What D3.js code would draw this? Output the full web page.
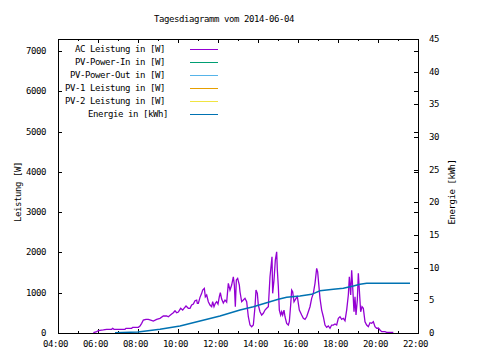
<!DOCTYPE html>
<html><head><meta charset="utf-8">
<script src="https://cdn.jsdelivr.net/npm/d3@7"></script>
<style>
html,body{margin:0;padding:0;background:#fff;}
svg text{font-family:"DejaVu Sans Mono",monospace;font-size:9px;letter-spacing:-0.42px;fill:#000;}
</style></head>
<body><svg id="c" width="480" height="360"></svg>
<script>
const title = "Tagesdiagramm vom 2014-06-04";
const xTickLabels = ["04:00","06:00","08:00","10:00","12:00","14:00","16:00","18:00","20:00","22:00"];
const leftTicks = [0,1000,2000,3000,4000,5000,6000,7000];
const rightTicks = [0,5,10,15,20,25,30,35,40,45];
const seriesNames = ["AC Leistung in [W]","PV-Power-In in [W]","PV-Power-Out in [W]","PV-1 Leistung in [W]","PV-2 Leistung in [W]","Energie in [kWh]"];
const seriesColors = ["#9400d3","#009e73","#56b4e9","#e69f00","#f0e442","#0072b2"];

const acTimes = ["05:46","05:54","06:01","06:16","06:26","06:41","06:44","06:48","07:21","07:24","07:41","07:44","08:01","08:06","08:11","08:16","08:24","08:31","08:38","08:46","08:56","09:06","09:16","09:26","09:31","09:41","09:46","09:51","09:56","10:01","10:08","10:14","10:18","10:24","10:31","10:36","10:41","10:46","10:51","10:56","10:58","11:01","11:06","11:11","11:14","11:19","11:22","11:26","11:31","11:36","11:41","11:44","11:48","11:52","11:56","12:00","12:04","12:07","12:11","12:16","12:21","12:26","12:31","12:36","12:41","12:46","12:49","12:52","12:55","12:59","13:04","13:06","13:11","13:16","13:21","13:26","13:31","13:36","13:41","13:46","13:51","13:54","13:58","14:01","14:06","14:11","14:16","14:21","14:26","14:31","14:36","14:39","14:42","14:44","14:48","14:52","14:56","14:58","15:01","15:04","15:08","15:11","15:14","15:18","15:21","15:26","15:31","15:34","15:38","15:41","15:44","15:48","15:54","15:58","16:04","16:11","16:16","16:21","16:26","16:31","16:36","16:41","16:46","16:51","16:56","16:59","17:02","17:06","17:11","17:16","17:21","17:26","17:31","17:36","17:41","17:46","17:51","17:56","18:01","18:06","18:11","18:16","18:21","18:26","18:31","18:34","18:38","18:41","18:44","18:48","18:51","18:54","18:58","19:01","19:04","19:08","19:12","19:16","19:21","19:26","19:31","19:36","19:41","19:46","19:51","19:56","20:01","20:06","20:11","20:21","20:26","20:46"];
const acWatts = [7,25,57,75,92,92,117,92,92,117,117,141,141,174,240,322,340,340,322,298,340,365,422,422,404,471,503,553,503,520,613,570,613,670,613,613,694,719,801,818,737,737,885,985,1066,1109,900,942,776,694,652,776,652,737,776,719,900,1000,843,744,818,769,1233,1066,1190,1396,1190,652,1314,1357,1190,1024,776,818,860,776,404,198,156,198,652,1066,985,694,528,446,489,570,613,652,1396,1644,1892,985,1314,1810,2016,1562,1148,570,446,528,446,570,404,240,198,280,694,1066,1024,776,860,900,570,446,365,340,404,528,652,860,985,1233,1604,1520,1233,860,570,404,198,141,174,117,198,198,223,198,365,404,340,365,305,570,942,1396,942,1560,1148,528,900,446,818,1480,1066,528,652,613,280,198,156,255,240,280,156,117,124,74,32,32,17,17];

const pvInTimes = [], pvInWatts = [];
const pvOutTimes = [], pvOutWatts = [];
const pv1Times = [], pv1Watts = [];
const pv2Times = [], pv2Watts = [];

const energyTimes = ["06:51","08:00","08:06","08:36","09:06","10:06","11:06","12:06","13:06","13:46","14:36","15:01","15:26","16:06","16:41","17:06","17:46","18:16","18:46","19:06","19:26","21:36"];
const energyKWh = [0.05,0.15,0.2,0.38,0.57,1.07,1.84,2.6,3.52,4.03,4.79,5.16,5.46,5.66,5.92,6.47,6.69,6.84,7.19,7.45,7.61,7.61];

const toMin = s => { const p = s.split(":"); return +p[0]*60 + +p[1]; };
const svg = d3.select("#c");
const L = 58, R = 418, T = 39, B = 333;
const x = d3.scaleLinear().domain([240, 1320]).range([L, R]);
const y = d3.scaleLinear().domain([0, 7300]).range([B, T]);
const y2 = d3.scaleLinear().domain([0, 45]).range([B, T]);

svg.append("rect").attr("width",480).attr("height",360).attr("fill","#fff");

// title
svg.append("text").attr("x",224).attr("y",22).attr("text-anchor","middle").text(title);

// ticks
const g = svg.append("g").attr("stroke","#000").attr("stroke-width",1).attr("shape-rendering","crispEdges");
const xMajor = xTickLabels.map(toMin);
const xMinor = d3.range(300, 1320, 120);
xMajor.forEach(t => {
  g.append("line").attr("x1",x(t)+0.5).attr("x2",x(t)+0.5).attr("y1",B).attr("y2",B-4);
  g.append("line").attr("x1",x(t)+0.5).attr("x2",x(t)+0.5).attr("y1",T).attr("y2",T+4);
});
xMinor.forEach(t => {
  g.append("line").attr("x1",x(t)+0.5).attr("x2",x(t)+0.5).attr("y1",B).attr("y2",B-2);
  g.append("line").attr("x1",x(t)+0.5).attr("x2",x(t)+0.5).attr("y1",T).attr("y2",T+2);
});
leftTicks.forEach(v => {
  g.append("line").attr("x1",L).attr("x2",L+4).attr("y1",Math.round(y(v))+0.5).attr("y2",Math.round(y(v))+0.5);
  g.append("line").attr("x1",R).attr("x2",R-4).attr("y1",Math.round(y(v))+0.5).attr("y2",Math.round(y(v))+0.5);
});
rightTicks.forEach(v => {
  g.append("line").attr("x1",R).attr("x2",R-4).attr("y1",Math.round(y2(v))+0.5).attr("y2",Math.round(y2(v))+0.5);
});

// tick labels
leftTicks.forEach(v => {
  svg.append("text").attr("x",46).attr("y",y(v)+3).attr("text-anchor","end").text(v);
});
rightTicks.forEach(v => {
  svg.append("text").attr("x",429).attr("y",y2(v)+3).attr("text-anchor","start").text(v);
});
xTickLabels.forEach(s => {
  svg.append("text").attr("x",x(toMin(s))-2.5).attr("y",347).attr("text-anchor","middle").text(s);
});

// axis titles
svg.append("text").attr("transform","translate(21,192) rotate(-90)").attr("text-anchor","middle").text("Leistung [W]");
svg.append("text").attr("transform","translate(455,192) rotate(-90)").attr("text-anchor","middle").text("Energie [kWh]");

// legend
const legendRows = [49,62,75,88,101,114];
seriesNames.forEach((n,i) => {
  svg.append("text").attr("x", i===5 ? 168 : 165).attr("y",legendRows[i]+2.5).attr("text-anchor","end").text(n);
  svg.append("line").attr("x1",190).attr("x2",218).attr("y1",legendRows[i]+0.5).attr("y2",legendRows[i]+0.5)
    .attr("stroke",seriesColors[i]).attr("stroke-width",1).attr("shape-rendering","crispEdges");
});

// series
const powerSeries = [
  [acTimes, acWatts, seriesColors[0]],
  [pvInTimes, pvInWatts, seriesColors[1]],
  [pvOutTimes, pvOutWatts, seriesColors[2]],
  [pv1Times, pv1Watts, seriesColors[3]],
  [pv2Times, pv2Watts, seriesColors[4]]
];
const line1 = d3.line().x(d => x(d[0])).y(d => y(d[1]));
powerSeries.forEach(([ts, vs, c]) => {
  if (!ts.length) return;
  svg.append("path").datum(ts.map((t,i) => [toMin(t), vs[i]]))
    .attr("d", line1).attr("fill","none").attr("stroke",c).attr("stroke-width",1.3);
});
const line2 = d3.line().x(d => x(d[0])).y(d => y2(d[1]));
svg.append("path").datum(energyTimes.map((t,i) => [toMin(t), energyKWh[i]]))
  .attr("d", line2).attr("fill","none").attr("stroke",seriesColors[5]).attr("stroke-width",1.5);

// frame
svg.append("rect").attr("x",L+0.5).attr("y",T+0.5).attr("width",R-L).attr("height",B-T)
  .attr("fill","none").attr("stroke","#000").attr("stroke-width",1).attr("shape-rendering","crispEdges");
</script></body></html>
